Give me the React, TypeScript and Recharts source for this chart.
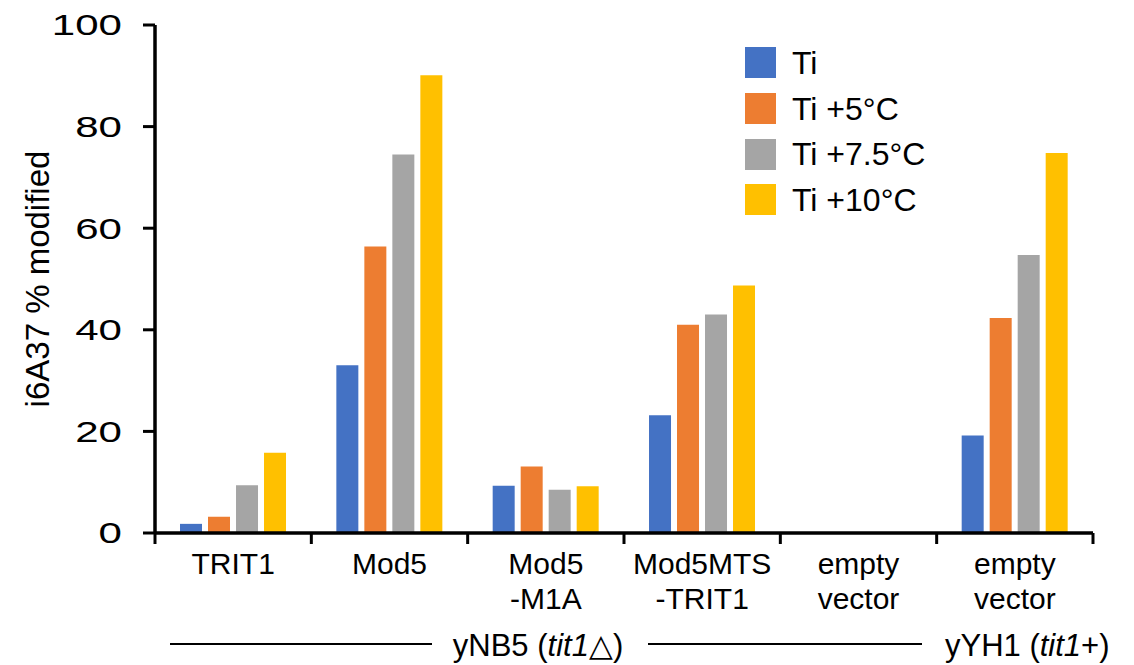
import React from 'react';
import { BarChart, Bar, XAxis, YAxis, Legend, Customized } from 'recharts';

// values (i6A37 % modified)
const categories = ['TRIT1', 'Mod5', 'Mod5-M1A', 'Mod5MTS-TRIT1', 'empty-yNB5', 'empty-yYH1'];
const categoryLabels = [['TRIT1'], ['Mod5'], ['Mod5', '-M1A'], ['Mod5MTS', '-TRIT1'], ['empty', 'vector'], ['empty', 'vector']];
const ti = [1.8, 33.0, 9.3, 23.2, 0, 19.2];
const ti5 = [3.2, 56.4, 13.1, 41.0, 0, 42.3];
const ti75 = [9.4, 74.5, 8.5, 43.0, 0, 54.7];
const ti10 = [15.8, 90.1, 9.2, 48.7, 0, 74.8];
const seriesNames = ['Ti', 'Ti +5°C', 'Ti +7.5°C', 'Ti +10°C'];
const yTicks = [0, 20, 40, 60, 80, 100];

const data = categories.map((c, i) => ({
    key: c,
    ti: ti[i],
    ti5: ti5[i],
    ti75: ti75[i],
    ti10: ti10[i],
}));

const W = 1134;
const H = 665;
const FONT = '"Liberation Sans", Arial, sans-serif';
const margin = { top: 25, right: 41, left: 0, bottom: 0 };
const Y_AXIS_W = 155;
const band = (W - Y_AXIS_W - margin.right) / categories.length;

function CategoryTick(props: any) {
    const { x, y, payload } = props;
    const idx = payload.index;
    const lines = categoryLabels[idx] || [];
    return (
        <g>
            <line x1={x - band / 2} x2={x - band / 2} y1={y} y2={y + 11} stroke="#000" strokeWidth={3} />
            {idx === categories.length - 1 && (
                <line x1={x + band / 2} x2={x + band / 2} y1={y} y2={y + 11} stroke="#000" strokeWidth={3} />
            )}
            <text x={x} y={y} textAnchor="middle" fontSize={30} fontFamily={FONT} fill="#000">
                {lines.map((l, i) => (
                    <tspan key={i} x={x} y={y + 41 + i * 35}>{l}</tspan>
                ))}
            </text>
        </g>
    );
}

function ValueTick(props: any) {
    const { x, y, payload } = props;
    return (
        <text
            transform={`translate(${x} ${y}) scale(1.45 1)`}
            textAnchor="end"
            dy="0.36em"
            fontSize={29}
            fontFamily={FONT}
            fill="#000"
        >
            {payload.value}
        </text>
    );
}

function LegendBox(props: any) {
    const { payload } = props;
    const items = [...(payload || [])].sort(
        (a: any, b: any) => seriesNames.indexOf(a.value) - seriesNames.indexOf(b.value)
    );
    return (
        <div style={{ fontFamily: FONT }}>
            {items.map((p: any) => (
                <div key={p.value} style={{ display: 'flex', alignItems: 'center', height: 45.7 }}>
                    <div style={{ width: 31, height: 31, background: p.color, marginRight: 16 }} />
                    <span style={{ fontSize: 32, color: '#000', lineHeight: '32px' }}>{p.value}</span>
                </div>
            ))}
        </div>
    );
}

function Annotations() {
    return (
        <g fontFamily={FONT} fill="#000">
            <text transform="translate(37 279) rotate(-90)" textAnchor="middle" dy="0.35em" fontSize={33}>
                i6A37 % modified
            </text>
            <line x1={170} x2={432} y1={644} y2={644} stroke="#000" strokeWidth={2} />
            <line x1={648} x2={922} y1={644} y2={644} stroke="#000" strokeWidth={2} />
            <text x={538} y={656} textAnchor="middle" fontSize={31}>
                yNB5 (<tspan fontStyle="italic">tit1</tspan>△)
            </text>
            <text x={945} y={656} fontSize={31}>
                yYH1 (<tspan fontStyle="italic">tit1</tspan>+)
            </text>
        </g>
    );
}

export default function App() {
    return (
        <div style={{ position: 'absolute', left: 0, top: 0, background: '#fff' }}>
            <BarChart width={W} height={H} data={data} margin={margin} barCategoryGap="16%" barGap={6}>
                <XAxis
                    dataKey="key"
                    height={132}
                    axisLine={{ stroke: '#000', strokeWidth: 3.5 }}
                    tickLine={false}
                    tickSize={0}
                    tickMargin={0}
                    tick={<CategoryTick />}
                    interval={0}
                />
                <YAxis
                    width={Y_AXIS_W}
                    domain={[0, 100]}
                    ticks={yTicks}
                    axisLine={{ stroke: '#000', strokeWidth: 3.5 }}
                    tickLine={{ stroke: '#000', strokeWidth: 3 }}
                    tickSize={12}
                    tickMargin={21}
                    tick={<ValueTick />}
                />
                <Legend
                    layout="vertical"
                    align="center"
                    verticalAlign="middle"
                    content={<LegendBox />}
                    wrapperStyle={{ left: 745, top: 40, width: 'auto', right: 'auto', bottom: 'auto' }}
                />
                <Bar dataKey="ti" name={seriesNames[0]} fill="#4472C4" isAnimationActive={false} />
                <Bar dataKey="ti5" name={seriesNames[1]} fill="#ED7D31" isAnimationActive={false} />
                <Bar dataKey="ti75" name={seriesNames[2]} fill="#A5A5A5" isAnimationActive={false} />
                <Bar dataKey="ti10" name={seriesNames[3]} fill="#FFC000" isAnimationActive={false} />
                <Customized component={<Annotations />} />
            </BarChart>
        </div>
    );
}
